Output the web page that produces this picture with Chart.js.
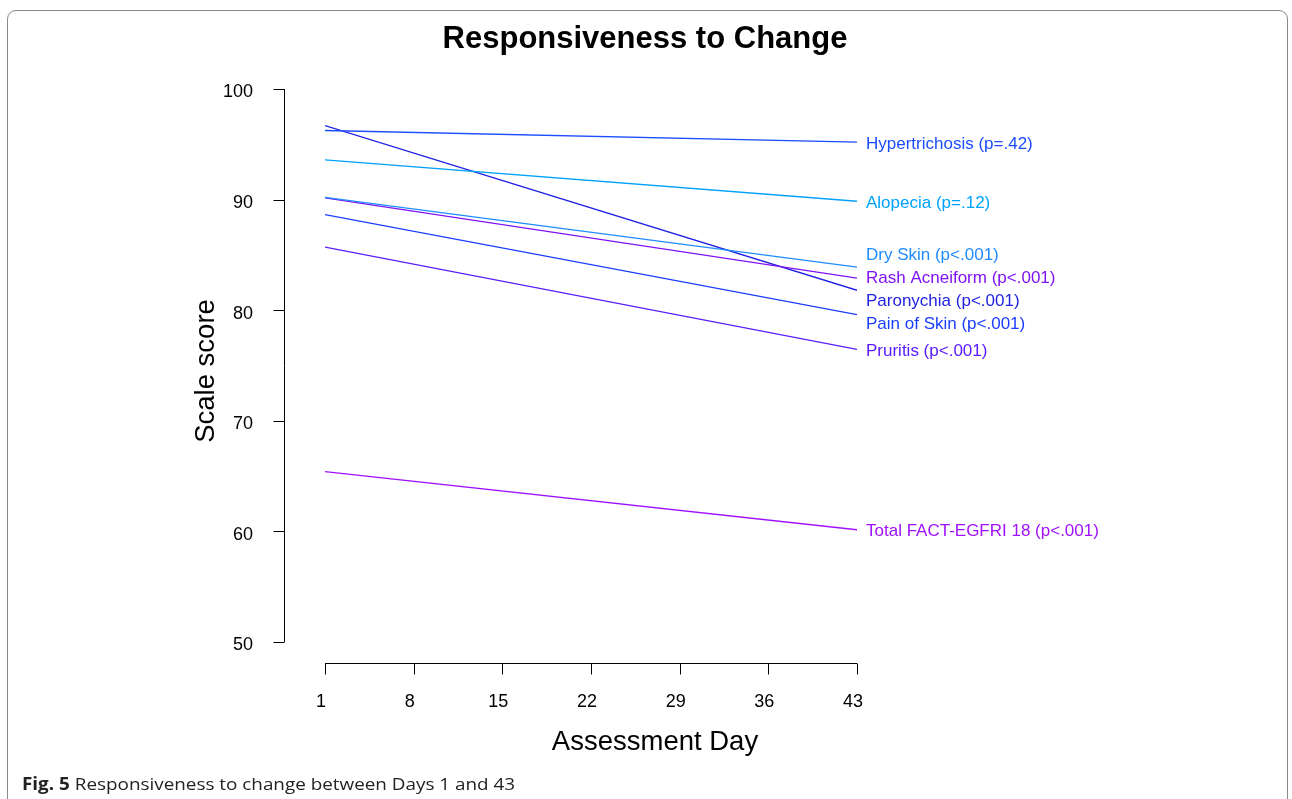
<!DOCTYPE html>
<html>
<head>
<meta charset="utf-8">
<script src="https://cdn.jsdelivr.net/npm/chart.js@4/dist/chart.umd.min.js"></script>
<style>
  html, body { margin: 0; padding: 0; background: #fff; }
  #wrap { position: relative; width: 1292px; height: 799px; overflow: hidden; }
  #frame {
    position: absolute; left: 7px; top: 10px; width: 1281px; height: 820px;
    border: 1px solid #8a8a8a; border-radius: 9px; box-sizing: border-box;
  }
  #caption {
    position: absolute; left: 22px; top: 772px;
    font-family: "Open Sans", sans-serif; font-size: 17px; color: #222;
    white-space: nowrap; transform: scaleX(1.11); transform-origin: left top;
  }
  canvas { position: absolute; left: 0; top: 0; }
</style>
</head>
<body>
<div id="wrap">
  <div id="frame"></div>
  <canvas id="chart" width="1292" height="799"></canvas>
  <div id="caption"><b>Fig. 5</b> Responsiveness to change between Days 1 and 43</div>
</div>
<script>
// assessment days (x) and ticks
const days = [1, 43];
const xTicks = [1, 8, 15, 22, 29, 36, 43];
const yTicks = [50, 60, 70, 80, 90, 100];

// scale scores at day 1 and day 43
const hypertrichosis = [96.25, 95.2];
const alopecia = [93.6, 89.85];
const drySkin = [90.2, 83.9];
const rashAcneiform = [90.15, 82.9];
const paronychia = [96.7, 81.8];
const painOfSkin = [88.65, 79.6];
const pruritis = [85.7, 76.45];
const totalFact = [65.4, 60.15];

const labels = [
  "Hypertrichosis (p=.42)", "Alopecia (p=.12)", "Dry Skin (p<.001)",
  "Rash Acneiform (p<.001)", "Paronychia (p<.001)", "Pain of Skin (p<.001)",
  "Pruritis (p<.001)", "Total FACT-EGFRI 18 (p<.001)"
];
const series = [hypertrichosis, alopecia, drySkin, rashAcneiform, paronychia, painOfSkin, pruritis, totalFact];
const colors = ["#1c4cff", "#00a2ff", "#1e8bff", "#7f12f5", "#2222e4", "#1a3cff", "#5a1cff", "#a010ff"];

const FONT = "'Liberation Sans', Arial, sans-serif";

/* axes, titles and end labels drawn R-style (detached axes) */
const rStyle = {
  id: "rStyle",
  afterDraw(chart) {
    const ctx = chart.ctx;
    const xs = chart.scales.x, ys = chart.scales.y;
    ctx.save();
    ctx.strokeStyle = "#000";
    ctx.fillStyle = "#000";
    ctx.lineWidth = 1;

    // y axis
    const axX = 284.5;
    ctx.beginPath();
    ctx.moveTo(axX, ys.getPixelForValue(100));
    ctx.lineTo(axX, ys.getPixelForValue(50));
    yTicks.forEach(v => {
      const py = Math.round(ys.getPixelForValue(v)) + 0.5;
      ctx.moveTo(axX, py);
      ctx.lineTo(axX - 11, py);
    });
    ctx.stroke();
    ctx.font = "18px " + FONT;
    ctx.textAlign = "right";
    ctx.textBaseline = "middle";
    yTicks.forEach(v => ctx.fillText(String(v), 253, ys.getPixelForValue(v) + 3.5));

    // x axis
    const axY = 663.5;
    ctx.beginPath();
    ctx.moveTo(xs.getPixelForValue(1), axY);
    ctx.lineTo(xs.getPixelForValue(43), axY);
    xTicks.forEach(v => {
      const px = Math.round(xs.getPixelForValue(v)) + 0.5;
      ctx.moveTo(px, axY);
      ctx.lineTo(px, axY + 11);
    });
    ctx.stroke();
    ctx.textAlign = "center";
    xTicks.forEach(v => ctx.fillText(String(v), xs.getPixelForValue(v) - 4, 702));

    // axis titles
    ctx.font = "27.5px " + FONT;
    ctx.fillText("Assessment Day", 655, 742);
    ctx.save();
    ctx.translate(206, 371);
    ctx.rotate(-Math.PI / 2);
    ctx.fillText("Scale score", 0, 0);
    ctx.restore();

    // main title
    ctx.font = "bold 31px " + FONT;
    ctx.fillText("Responsiveness to Change", 645, 39);

    // end labels, spread apart so they do not overlap
    const items = series.map((s, i) => ({ i, y: ys.getPixelForValue(s[s.length - 1]) }));
    items.sort((a, b) => a.y - b.y);
    const gap = 23;
    for (let it = 0; it < 300; it++) {
      for (let k = 1; k < items.length; k++) {
        const d = items[k].y - items[k - 1].y;
        if (d < gap) {
          const push = (gap - d) / 2;
          items[k - 1].y -= push;
          items[k].y += push;
        }
      }
    }
    ctx.font = "17px " + FONT;
    ctx.textAlign = "left";
    items.forEach(o => {
      ctx.fillStyle = colors[o.i];
      ctx.fillText(labels[o.i], xs.getPixelForValue(43) + 9, o.y + 2);
    });
    ctx.restore();
  }
};

new Chart(document.getElementById("chart"), {
  type: "line",
  data: {
    datasets: series.map((s, i) => ({
      label: labels[i],
      data: s.map((v, j) => ({ x: days[j], y: v })),
      borderColor: colors[i],
      borderWidth: 1.3,
      pointRadius: 0,
      tension: 0
    }))
  },
  options: {
    responsive: false,
    animation: false,
    layout: { padding: { left: 325, right: 435, top: 89, bottom: 157 } },
    plugins: { legend: { display: false }, tooltip: { enabled: false } },
    scales: {
      x: { type: "linear", min: 1, max: 43, display: false },
      y: { type: "linear", min: 50, max: 100, display: false }
    }
  },
  plugins: [rStyle]
});
</script>
</body>
</html>
